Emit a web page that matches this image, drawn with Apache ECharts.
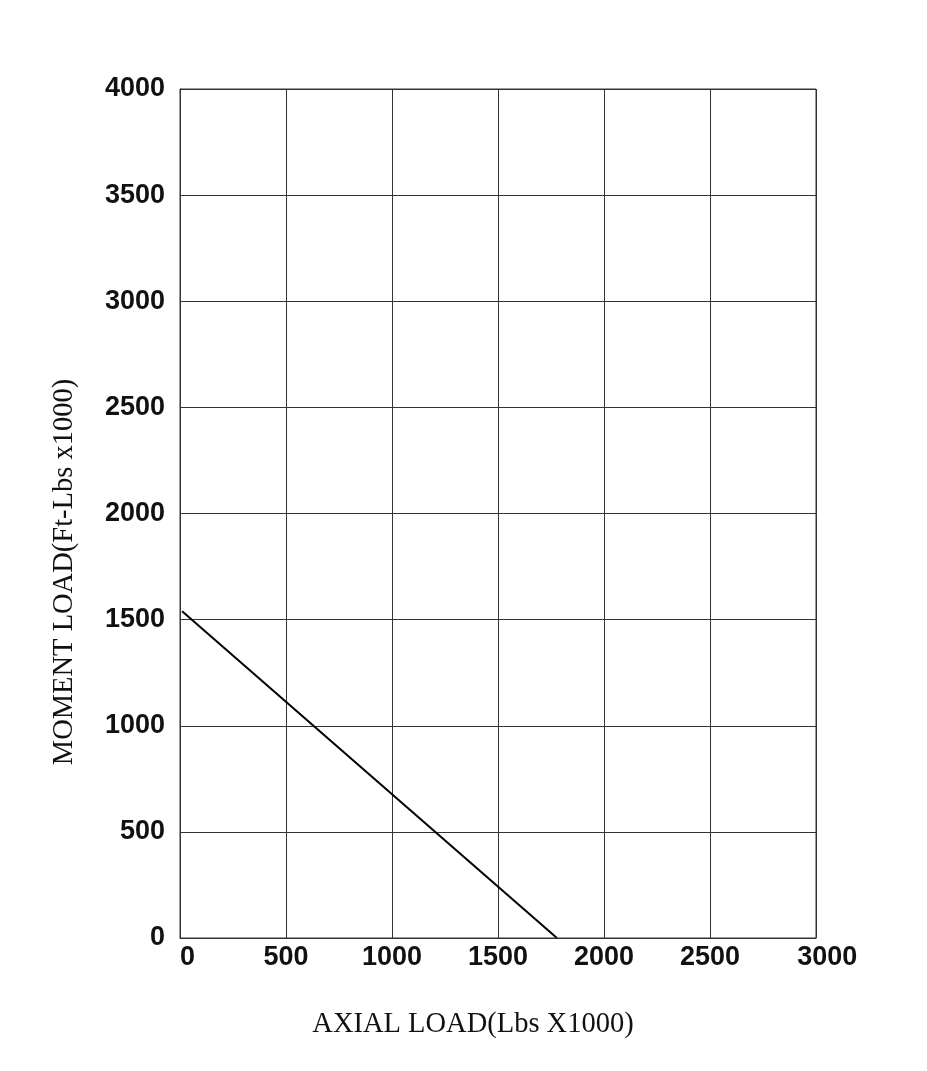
<!DOCTYPE html>
<html>
<head>
<meta charset="utf-8">
<script src="https://cdn.jsdelivr.net/npm/echarts@6/dist/echarts.min.js"></script>
<style>
html,body{margin:0;padding:0;background:#fff;}
#chart{width:927px;height:1071px;}
</style>
</head>
<body>
<div id="chart"></div>
<script>
// Data
const xTickLabels = ['0','500','1000','1500','2000','2500','3000'];
const yTickLabels = ['0','500','1000','1500','2000','2500','3000','3500','4000'];
const axialLoad = [10, 1778];      // Lbs x1000
const momentLoad = [1540, 0];      // Ft-Lbs x1000
const xTitle = 'AXIAL LOAD(Lbs X1000)';
const yTitle = 'MOMENT LOAD(Ft-Lbs x1000)';

const lineData = axialLoad.map((x, i) => [x, momentLoad[i]]);
const tickFont = "'Liberation Sans Narrow','Arial Narrow','Liberation Sans',Arial,sans-serif";
const titleFont = "'Liberation Serif','Times New Roman',serif";

const chart = echarts.init(document.getElementById('chart'), null, {renderer: 'canvas'});
chart.setOption({
  backgroundColor: '#ffffff',
  animation: false,
  grid: {left: 180, top: 89, right: 111, bottom: 133, containLabel: false},
  xAxis: {
    type: 'value',
    min: Number(xTickLabels[0]),
    max: Number(xTickLabels[xTickLabels.length - 1]),
    interval: 500,
    axisLine: {show: true, lineStyle: {color: '#333', width: 1}},
    axisTick: {show: false},
    splitLine: {show: true, lineStyle: {color: '#333', width: 1}},
    axisLabel: {
      margin: 6, color: '#111', fontSize: 27, fontWeight: 'bold', fontFamily: tickFont,
      formatter: v => (v === 0 ? '  ' : (v === 3000 ? '   ' : '')) + String(v)
    }
  },
  yAxis: {
    type: 'value',
    min: Number(yTickLabels[0]),
    max: Number(yTickLabels[yTickLabels.length - 1]),
    interval: 500,
    axisLine: {show: true, lineStyle: {color: '#333', width: 1}},
    axisTick: {show: false},
    splitLine: {show: true, lineStyle: {color: '#333', width: 1}},
    axisLabel: {
      margin: 15, color: '#111', fontSize: 27, fontWeight: 'bold', fontFamily: tickFont,
      formatter: v => String(v)
    }
  },
  series: [{
    type: 'line',
    data: lineData,
    showSymbol: false,
    symbol: 'none',
    lineStyle: {color: '#000', width: 2},
    silent: true
  }],
  graphic: [
    {type: 'rect', shape: {x: 180, y: 89, width: 636, height: 849}, style: {fill: 'none', stroke: '#333', lineWidth: 1}, silent: true, z: 10},
    {type: 'text', x: 473, y: 1025, style: {text: xTitle, textAlign: 'center', textVerticalAlign: 'middle', font: "28.5px " + titleFont, fill: '#111'}},
    {type: 'text', x: 65, y: 572, rotation: Math.PI / 2, style: {text: yTitle, textAlign: 'center', textVerticalAlign: 'middle', font: "28.5px " + titleFont, fill: '#111'}}
  ]
});
</script>
</body>
</html>
